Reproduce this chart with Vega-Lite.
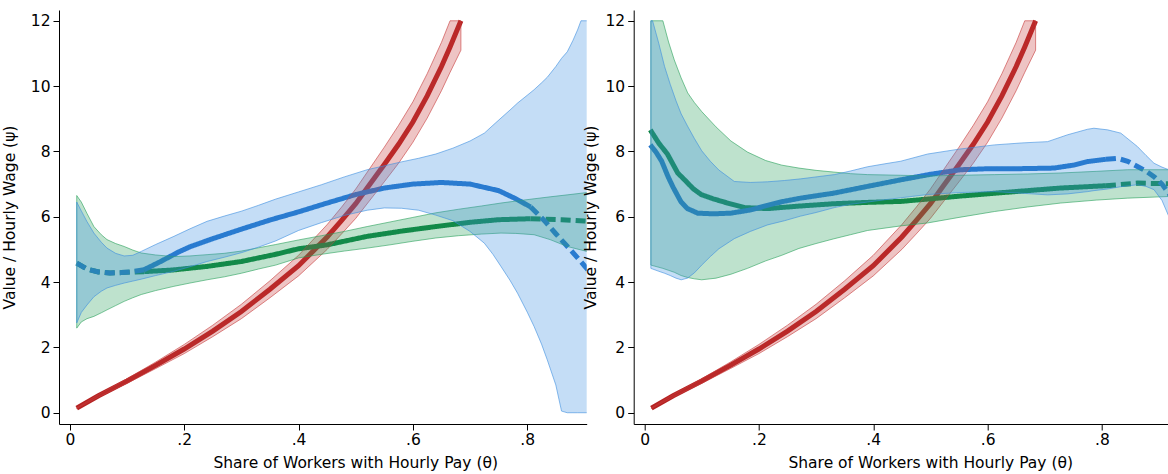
{
  "$schema": "https://vega.github.io/schema/vega-lite/v6.json",
  "padding": {"left": 2, "top": 10, "right": 0, "bottom": 0},
  "bounds": "flush",
  "spacing": 46.7,
  "config": {
    "view": {"stroke": null},
    "font": "DejaVu Sans",
    "axis": {
      "domainColor": "#000000", "tickColor": "#000000", "labelColor": "#000000", "titleColor": "#000000",
      "labelFont": "DejaVu Sans", "titleFont": "DejaVu Sans", "labelFontSize": 15.5, "titleFontSize": 15.5,
      "titleFontWeight": "normal", "grid": false, "tickSize": 6, "domainWidth": 1, "tickWidth": 1, "labelFlush": false
    }
  },
  "datasets": {
    "red": [
      {"x": 0.012, "y": 0.14, "lo": 0.13, "hi": 0.15},
      {"x": 0.05, "y": 0.52, "lo": 0.48, "hi": 0.56},
      {"x": 0.10, "y": 0.97, "lo": 0.90, "hi": 1.04},
      {"x": 0.15, "y": 1.45, "lo": 1.35, "hi": 1.55},
      {"x": 0.20, "y": 1.95, "lo": 1.81, "hi": 2.09},
      {"x": 0.25, "y": 2.50, "lo": 2.33, "hi": 2.68},
      {"x": 0.30, "y": 3.10, "lo": 2.88, "hi": 3.32},
      {"x": 0.35, "y": 3.78, "lo": 3.52, "hi": 4.04},
      {"x": 0.40, "y": 4.50, "lo": 4.19, "hi": 4.82},
      {"x": 0.45, "y": 5.38, "lo": 5.00, "hi": 5.76},
      {"x": 0.475, "y": 5.88, "lo": 5.47, "hi": 6.29},
      {"x": 0.50, "y": 6.40, "lo": 5.95, "hi": 6.85},
      {"x": 0.525, "y": 7.00, "lo": 6.51, "hi": 7.49},
      {"x": 0.55, "y": 7.60, "lo": 7.07, "hi": 8.13},
      {"x": 0.575, "y": 8.22, "lo": 7.64, "hi": 8.80},
      {"x": 0.60, "y": 8.90, "lo": 8.28, "hi": 9.52},
      {"x": 0.625, "y": 9.70, "lo": 9.02, "hi": 10.38},
      {"x": 0.65, "y": 10.60, "lo": 9.86, "hi": 11.34},
      {"x": 0.665, "y": 11.20, "lo": 10.42, "hi": 12.0},
      {"x": 0.684, "y": 12.0, "lo": 11.10, "hi": 12.0}
    ],
    "lines": [
      {"p": "A", "s": "blue", "g": "Ab1", "d": "dash", "x": 0.012, "y": 4.58},
      {"p": "A", "s": "blue", "g": "Ab1", "d": "dash", "x": 0.03, "y": 4.40},
      {"p": "A", "s": "blue", "g": "Ab1", "d": "dash", "x": 0.05, "y": 4.31},
      {"p": "A", "s": "blue", "g": "Ab1", "d": "dash", "x": 0.07, "y": 4.28},
      {"p": "A", "s": "blue", "g": "Ab1", "d": "dash", "x": 0.09, "y": 4.29},
      {"p": "A", "s": "blue", "g": "Ab1", "d": "dash", "x": 0.11, "y": 4.32},
      {"p": "A", "s": "blue", "g": "Ab1", "d": "dash", "x": 0.13, "y": 4.38},
      {"p": "A", "s": "blue", "g": "Ab2", "d": "solid", "x": 0.13, "y": 4.38},
      {"p": "A", "s": "blue", "g": "Ab2", "d": "solid", "x": 0.16, "y": 4.64},
      {"p": "A", "s": "blue", "g": "Ab2", "d": "solid", "x": 0.19, "y": 4.92},
      {"p": "A", "s": "blue", "g": "Ab2", "d": "solid", "x": 0.21, "y": 5.08},
      {"p": "A", "s": "blue", "g": "Ab2", "d": "solid", "x": 0.25, "y": 5.33},
      {"p": "A", "s": "blue", "g": "Ab2", "d": "solid", "x": 0.30, "y": 5.62},
      {"p": "A", "s": "blue", "g": "Ab2", "d": "solid", "x": 0.35, "y": 5.90},
      {"p": "A", "s": "blue", "g": "Ab2", "d": "solid", "x": 0.40, "y": 6.15},
      {"p": "A", "s": "blue", "g": "Ab2", "d": "solid", "x": 0.45, "y": 6.42},
      {"p": "A", "s": "blue", "g": "Ab2", "d": "solid", "x": 0.50, "y": 6.68},
      {"p": "A", "s": "blue", "g": "Ab2", "d": "solid", "x": 0.55, "y": 6.88},
      {"p": "A", "s": "blue", "g": "Ab2", "d": "solid", "x": 0.60, "y": 7.00},
      {"p": "A", "s": "blue", "g": "Ab2", "d": "solid", "x": 0.65, "y": 7.05},
      {"p": "A", "s": "blue", "g": "Ab2", "d": "solid", "x": 0.70, "y": 7.00},
      {"p": "A", "s": "blue", "g": "Ab2", "d": "solid", "x": 0.75, "y": 6.80},
      {"p": "A", "s": "blue", "g": "Ab2", "d": "solid", "x": 0.78, "y": 6.55},
      {"p": "A", "s": "blue", "g": "Ab2", "d": "solid", "x": 0.806, "y": 6.30},
      {"p": "A", "s": "blue", "g": "Ab3", "d": "dash", "x": 0.806, "y": 6.30},
      {"p": "A", "s": "blue", "g": "Ab3", "d": "dash", "x": 0.83, "y": 5.88},
      {"p": "A", "s": "blue", "g": "Ab3", "d": "dash", "x": 0.85, "y": 5.48},
      {"p": "A", "s": "blue", "g": "Ab3", "d": "dash", "x": 0.875, "y": 5.00},
      {"p": "A", "s": "blue", "g": "Ab3", "d": "dash", "x": 0.90, "y": 4.50},
      {"p": "A", "s": "blue", "g": "Ab3", "d": "dash", "x": 0.92, "y": 4.10},
      {"p": "A", "s": "blue", "g": "Ab3", "d": "dash", "x": 0.94, "y": 3.70},
      {"p": "A", "s": "green", "g": "Ag1", "d": "dash", "x": 0.012, "y": 4.58},
      {"p": "A", "s": "green", "g": "Ag1", "d": "dash", "x": 0.03, "y": 4.40},
      {"p": "A", "s": "green", "g": "Ag1", "d": "dash", "x": 0.05, "y": 4.31},
      {"p": "A", "s": "green", "g": "Ag1", "d": "dash", "x": 0.07, "y": 4.28},
      {"p": "A", "s": "green", "g": "Ag1", "d": "dash", "x": 0.09, "y": 4.29},
      {"p": "A", "s": "green", "g": "Ag1", "d": "dash", "x": 0.11, "y": 4.31},
      {"p": "A", "s": "green", "g": "Ag1", "d": "dash", "x": 0.13, "y": 4.32},
      {"p": "A", "s": "green", "g": "Ag2", "d": "solid", "x": 0.13, "y": 4.32},
      {"p": "A", "s": "green", "g": "Ag2", "d": "solid", "x": 0.18, "y": 4.37},
      {"p": "A", "s": "green", "g": "Ag2", "d": "solid", "x": 0.24, "y": 4.48},
      {"p": "A", "s": "green", "g": "Ag2", "d": "solid", "x": 0.30, "y": 4.63},
      {"p": "A", "s": "green", "g": "Ag2", "d": "solid", "x": 0.36, "y": 4.85},
      {"p": "A", "s": "green", "g": "Ag2", "d": "solid", "x": 0.40, "y": 5.02},
      {"p": "A", "s": "green", "g": "Ag2", "d": "solid", "x": 0.45, "y": 5.14},
      {"p": "A", "s": "green", "g": "Ag2", "d": "solid", "x": 0.52, "y": 5.40},
      {"p": "A", "s": "green", "g": "Ag2", "d": "solid", "x": 0.58, "y": 5.56},
      {"p": "A", "s": "green", "g": "Ag2", "d": "solid", "x": 0.64, "y": 5.70},
      {"p": "A", "s": "green", "g": "Ag2", "d": "solid", "x": 0.70, "y": 5.83},
      {"p": "A", "s": "green", "g": "Ag2", "d": "solid", "x": 0.75, "y": 5.91},
      {"p": "A", "s": "green", "g": "Ag2", "d": "solid", "x": 0.806, "y": 5.94},
      {"p": "A", "s": "green", "g": "Ag3", "d": "dash", "x": 0.806, "y": 5.94},
      {"p": "A", "s": "green", "g": "Ag3", "d": "dash", "x": 0.86, "y": 5.91},
      {"p": "A", "s": "green", "g": "Ag3", "d": "dash", "x": 0.90, "y": 5.87},
      {"p": "A", "s": "green", "g": "Ag3", "d": "dash", "x": 0.94, "y": 5.83},
      {"p": "B", "s": "blue", "g": "Bb1", "d": "solid", "x": 0.01, "y": 8.20},
      {"p": "B", "s": "blue", "g": "Bb1", "d": "solid", "x": 0.02, "y": 7.98},
      {"p": "B", "s": "blue", "g": "Bb1", "d": "solid", "x": 0.03, "y": 7.70},
      {"p": "B", "s": "blue", "g": "Bb1", "d": "solid", "x": 0.041, "y": 7.23},
      {"p": "B", "s": "blue", "g": "Bb1", "d": "solid", "x": 0.05, "y": 6.90},
      {"p": "B", "s": "blue", "g": "Bb1", "d": "solid", "x": 0.064, "y": 6.45},
      {"p": "B", "s": "blue", "g": "Bb1", "d": "solid", "x": 0.075, "y": 6.25},
      {"p": "B", "s": "blue", "g": "Bb1", "d": "solid", "x": 0.093, "y": 6.11},
      {"p": "B", "s": "blue", "g": "Bb1", "d": "solid", "x": 0.12, "y": 6.09},
      {"p": "B", "s": "blue", "g": "Bb1", "d": "solid", "x": 0.151, "y": 6.11},
      {"p": "B", "s": "blue", "g": "Bb1", "d": "solid", "x": 0.186, "y": 6.21},
      {"p": "B", "s": "blue", "g": "Bb1", "d": "solid", "x": 0.215, "y": 6.35},
      {"p": "B", "s": "blue", "g": "Bb1", "d": "solid", "x": 0.24, "y": 6.46},
      {"p": "B", "s": "blue", "g": "Bb1", "d": "solid", "x": 0.273, "y": 6.57},
      {"p": "B", "s": "blue", "g": "Bb1", "d": "solid", "x": 0.33, "y": 6.72},
      {"p": "B", "s": "blue", "g": "Bb1", "d": "solid", "x": 0.39, "y": 6.93},
      {"p": "B", "s": "blue", "g": "Bb1", "d": "solid", "x": 0.448, "y": 7.13},
      {"p": "B", "s": "blue", "g": "Bb1", "d": "solid", "x": 0.50, "y": 7.30},
      {"p": "B", "s": "blue", "g": "Bb1", "d": "solid", "x": 0.553, "y": 7.44},
      {"p": "B", "s": "blue", "g": "Bb1", "d": "solid", "x": 0.60, "y": 7.47},
      {"p": "B", "s": "blue", "g": "Bb1", "d": "solid", "x": 0.65, "y": 7.47},
      {"p": "B", "s": "blue", "g": "Bb1", "d": "solid", "x": 0.716, "y": 7.49},
      {"p": "B", "s": "blue", "g": "Bb1", "d": "solid", "x": 0.75, "y": 7.58},
      {"p": "B", "s": "blue", "g": "Bb1", "d": "solid", "x": 0.775, "y": 7.69},
      {"p": "B", "s": "blue", "g": "Bb1", "d": "solid", "x": 0.807, "y": 7.76},
      {"p": "B", "s": "blue", "g": "Bb2", "d": "dash", "x": 0.807, "y": 7.76},
      {"p": "B", "s": "blue", "g": "Bb2", "d": "dash", "x": 0.827, "y": 7.79},
      {"p": "B", "s": "blue", "g": "Bb2", "d": "dash", "x": 0.845, "y": 7.70},
      {"p": "B", "s": "blue", "g": "Bb2", "d": "dash", "x": 0.862, "y": 7.54},
      {"p": "B", "s": "blue", "g": "Bb2", "d": "dash", "x": 0.877, "y": 7.40},
      {"p": "B", "s": "blue", "g": "Bb2", "d": "dash", "x": 0.891, "y": 7.23},
      {"p": "B", "s": "blue", "g": "Bb2", "d": "dash", "x": 0.905, "y": 7.00},
      {"p": "B", "s": "blue", "g": "Bb2", "d": "dash", "x": 0.917, "y": 6.72},
      {"p": "B", "s": "blue", "g": "Bb2", "d": "dash", "x": 0.935, "y": 6.25},
      {"p": "B", "s": "green", "g": "Bg1", "d": "solid", "x": 0.01, "y": 8.66},
      {"p": "B", "s": "green", "g": "Bg1", "d": "solid", "x": 0.025, "y": 8.25},
      {"p": "B", "s": "green", "g": "Bg1", "d": "solid", "x": 0.04, "y": 7.92},
      {"p": "B", "s": "green", "g": "Bg1", "d": "solid", "x": 0.058, "y": 7.34},
      {"p": "B", "s": "green", "g": "Bg1", "d": "solid", "x": 0.07, "y": 7.13},
      {"p": "B", "s": "green", "g": "Bg1", "d": "solid", "x": 0.085, "y": 6.86},
      {"p": "B", "s": "green", "g": "Bg1", "d": "solid", "x": 0.099, "y": 6.68},
      {"p": "B", "s": "green", "g": "Bg1", "d": "solid", "x": 0.12, "y": 6.55},
      {"p": "B", "s": "green", "g": "Bg1", "d": "solid", "x": 0.145, "y": 6.42},
      {"p": "B", "s": "green", "g": "Bg1", "d": "solid", "x": 0.175, "y": 6.28},
      {"p": "B", "s": "green", "g": "Bg1", "d": "solid", "x": 0.215, "y": 6.25},
      {"p": "B", "s": "green", "g": "Bg1", "d": "solid", "x": 0.273, "y": 6.33},
      {"p": "B", "s": "green", "g": "Bg1", "d": "solid", "x": 0.332, "y": 6.40},
      {"p": "B", "s": "green", "g": "Bg1", "d": "solid", "x": 0.39, "y": 6.44},
      {"p": "B", "s": "green", "g": "Bg1", "d": "solid", "x": 0.448, "y": 6.47},
      {"p": "B", "s": "green", "g": "Bg1", "d": "solid", "x": 0.495, "y": 6.54},
      {"p": "B", "s": "green", "g": "Bg1", "d": "solid", "x": 0.55, "y": 6.63},
      {"p": "B", "s": "green", "g": "Bg1", "d": "solid", "x": 0.612, "y": 6.72},
      {"p": "B", "s": "green", "g": "Bg1", "d": "solid", "x": 0.67, "y": 6.80},
      {"p": "B", "s": "green", "g": "Bg1", "d": "solid", "x": 0.728, "y": 6.88},
      {"p": "B", "s": "green", "g": "Bg1", "d": "solid", "x": 0.807, "y": 6.95},
      {"p": "B", "s": "green", "g": "Bg2", "d": "dash", "x": 0.807, "y": 6.95},
      {"p": "B", "s": "green", "g": "Bg2", "d": "dash", "x": 0.862, "y": 7.03},
      {"p": "B", "s": "green", "g": "Bg2", "d": "dash", "x": 0.917, "y": 7.01},
      {"p": "B", "s": "green", "g": "Bg2", "d": "dash", "x": 0.94, "y": 7.00}
    ],
    "bands": [
      {"p": "A", "s": "blue", "x": 0.012, "lo": 2.75, "hi": 6.45},
      {"p": "A", "s": "blue", "x": 0.02, "lo": 3.07, "hi": 6.18},
      {"p": "A", "s": "blue", "x": 0.03, "lo": 3.30, "hi": 5.85},
      {"p": "A", "s": "blue", "x": 0.042, "lo": 3.55, "hi": 5.50},
      {"p": "A", "s": "blue", "x": 0.055, "lo": 3.72, "hi": 5.22},
      {"p": "A", "s": "blue", "x": 0.065, "lo": 3.82, "hi": 5.04},
      {"p": "A", "s": "blue", "x": 0.08, "lo": 3.90, "hi": 4.88},
      {"p": "A", "s": "blue", "x": 0.095, "lo": 3.97, "hi": 4.80},
      {"p": "A", "s": "blue", "x": 0.11, "lo": 4.03, "hi": 4.82},
      {"p": "A", "s": "blue", "x": 0.125, "lo": 4.09, "hi": 4.94},
      {"p": "A", "s": "blue", "x": 0.15, "lo": 4.20, "hi": 5.15},
      {"p": "A", "s": "blue", "x": 0.182, "lo": 4.33, "hi": 5.40},
      {"p": "A", "s": "blue", "x": 0.21, "lo": 4.47, "hi": 5.63},
      {"p": "A", "s": "blue", "x": 0.24, "lo": 4.63, "hi": 5.86},
      {"p": "A", "s": "blue", "x": 0.27, "lo": 4.76, "hi": 6.02},
      {"p": "A", "s": "blue", "x": 0.30, "lo": 4.90, "hi": 6.17},
      {"p": "A", "s": "blue", "x": 0.33, "lo": 5.07, "hi": 6.35},
      {"p": "A", "s": "blue", "x": 0.36, "lo": 5.26, "hi": 6.54},
      {"p": "A", "s": "blue", "x": 0.40, "lo": 5.58, "hi": 6.76},
      {"p": "A", "s": "blue", "x": 0.44, "lo": 5.82, "hi": 6.98},
      {"p": "A", "s": "blue", "x": 0.48, "lo": 6.04, "hi": 7.22},
      {"p": "A", "s": "blue", "x": 0.52, "lo": 6.20, "hi": 7.44},
      {"p": "A", "s": "blue", "x": 0.55, "lo": 6.27, "hi": 7.56},
      {"p": "A", "s": "blue", "x": 0.58, "lo": 6.26, "hi": 7.68},
      {"p": "A", "s": "blue", "x": 0.61, "lo": 6.20, "hi": 7.79},
      {"p": "A", "s": "blue", "x": 0.64, "lo": 6.05, "hi": 7.92},
      {"p": "A", "s": "blue", "x": 0.67, "lo": 5.88, "hi": 8.10},
      {"p": "A", "s": "blue", "x": 0.70, "lo": 5.55, "hi": 8.32},
      {"p": "A", "s": "blue", "x": 0.725, "lo": 5.19, "hi": 8.56},
      {"p": "A", "s": "blue", "x": 0.74, "lo": 4.85, "hi": 8.80},
      {"p": "A", "s": "blue", "x": 0.754, "lo": 4.48, "hi": 9.02},
      {"p": "A", "s": "blue", "x": 0.77, "lo": 4.05, "hi": 9.27},
      {"p": "A", "s": "blue", "x": 0.783, "lo": 3.66, "hi": 9.48},
      {"p": "A", "s": "blue", "x": 0.80, "lo": 3.08, "hi": 9.72},
      {"p": "A", "s": "blue", "x": 0.812, "lo": 2.64, "hi": 9.89},
      {"p": "A", "s": "blue", "x": 0.825, "lo": 2.10, "hi": 10.10},
      {"p": "A", "s": "blue", "x": 0.835, "lo": 1.62, "hi": 10.27},
      {"p": "A", "s": "blue", "x": 0.85, "lo": 0.85, "hi": 10.60},
      {"p": "A", "s": "blue", "x": 0.86, "lo": 0.05, "hi": 10.85},
      {"p": "A", "s": "blue", "x": 0.87, "lo": 0.0, "hi": 11.05},
      {"p": "A", "s": "blue", "x": 0.88, "lo": 0.0, "hi": 11.40},
      {"p": "A", "s": "blue", "x": 0.888, "lo": 0.0, "hi": 11.72},
      {"p": "A", "s": "blue", "x": 0.894, "lo": 0.0, "hi": 12.0},
      {"p": "A", "s": "blue", "x": 0.92, "lo": 0.0, "hi": 12.0},
      {"p": "A", "s": "blue", "x": 0.95, "lo": 0.0, "hi": 12.0},
      {"p": "A", "s": "green", "x": 0.012, "lo": 2.59, "hi": 6.65},
      {"p": "A", "s": "green", "x": 0.02, "lo": 2.78, "hi": 6.45},
      {"p": "A", "s": "green", "x": 0.03, "lo": 2.88, "hi": 6.10},
      {"p": "A", "s": "green", "x": 0.042, "lo": 2.95, "hi": 5.70},
      {"p": "A", "s": "green", "x": 0.055, "lo": 3.06, "hi": 5.45},
      {"p": "A", "s": "green", "x": 0.065, "lo": 3.15, "hi": 5.30},
      {"p": "A", "s": "green", "x": 0.08, "lo": 3.28, "hi": 5.18},
      {"p": "A", "s": "green", "x": 0.095, "lo": 3.41, "hi": 5.09},
      {"p": "A", "s": "green", "x": 0.11, "lo": 3.52, "hi": 4.98},
      {"p": "A", "s": "green", "x": 0.125, "lo": 3.62, "hi": 4.89},
      {"p": "A", "s": "green", "x": 0.15, "lo": 3.74, "hi": 4.83},
      {"p": "A", "s": "green", "x": 0.182, "lo": 3.87, "hi": 4.78},
      {"p": "A", "s": "green", "x": 0.21, "lo": 3.97, "hi": 4.80},
      {"p": "A", "s": "green", "x": 0.24, "lo": 4.07, "hi": 4.84},
      {"p": "A", "s": "green", "x": 0.27, "lo": 4.16, "hi": 4.88},
      {"p": "A", "s": "green", "x": 0.30, "lo": 4.27, "hi": 4.95},
      {"p": "A", "s": "green", "x": 0.33, "lo": 4.40, "hi": 5.05},
      {"p": "A", "s": "green", "x": 0.36, "lo": 4.52, "hi": 5.15},
      {"p": "A", "s": "green", "x": 0.40, "lo": 4.74, "hi": 5.29},
      {"p": "A", "s": "green", "x": 0.44, "lo": 4.85, "hi": 5.42},
      {"p": "A", "s": "green", "x": 0.48, "lo": 4.95, "hi": 5.55},
      {"p": "A", "s": "green", "x": 0.52, "lo": 5.04, "hi": 5.70},
      {"p": "A", "s": "green", "x": 0.56, "lo": 5.14, "hi": 5.84},
      {"p": "A", "s": "green", "x": 0.60, "lo": 5.25, "hi": 5.98},
      {"p": "A", "s": "green", "x": 0.64, "lo": 5.35, "hi": 6.12},
      {"p": "A", "s": "green", "x": 0.68, "lo": 5.42, "hi": 6.23},
      {"p": "A", "s": "green", "x": 0.72, "lo": 5.47, "hi": 6.33},
      {"p": "A", "s": "green", "x": 0.754, "lo": 5.50, "hi": 6.42},
      {"p": "A", "s": "green", "x": 0.78, "lo": 5.49, "hi": 6.48},
      {"p": "A", "s": "green", "x": 0.812, "lo": 5.45, "hi": 6.55},
      {"p": "A", "s": "green", "x": 0.84, "lo": 5.30, "hi": 6.61},
      {"p": "A", "s": "green", "x": 0.87, "lo": 5.09, "hi": 6.67},
      {"p": "A", "s": "green", "x": 0.904, "lo": 4.94, "hi": 6.74},
      {"p": "A", "s": "green", "x": 0.94, "lo": 4.75, "hi": 6.82},
      {"p": "B", "s": "blue", "x": 0.011, "lo": 4.42, "hi": 12.0},
      {"p": "B", "s": "blue", "x": 0.014, "lo": 4.40, "hi": 12.0},
      {"p": "B", "s": "blue", "x": 0.025, "lo": 4.33, "hi": 11.3},
      {"p": "B", "s": "blue", "x": 0.035, "lo": 4.27, "hi": 10.6},
      {"p": "B", "s": "blue", "x": 0.045, "lo": 4.20, "hi": 10.05},
      {"p": "B", "s": "blue", "x": 0.055, "lo": 4.12, "hi": 9.55},
      {"p": "B", "s": "blue", "x": 0.064, "lo": 4.07, "hi": 9.15},
      {"p": "B", "s": "blue", "x": 0.075, "lo": 4.12, "hi": 8.78},
      {"p": "B", "s": "blue", "x": 0.087, "lo": 4.28, "hi": 8.40},
      {"p": "B", "s": "blue", "x": 0.10, "lo": 4.52, "hi": 8.02},
      {"p": "B", "s": "blue", "x": 0.115, "lo": 4.78, "hi": 7.70},
      {"p": "B", "s": "blue", "x": 0.13, "lo": 5.02, "hi": 7.43},
      {"p": "B", "s": "blue", "x": 0.157, "lo": 5.33, "hi": 7.08},
      {"p": "B", "s": "blue", "x": 0.185, "lo": 5.55, "hi": 7.05},
      {"p": "B", "s": "blue", "x": 0.215, "lo": 5.75, "hi": 7.07},
      {"p": "B", "s": "blue", "x": 0.245, "lo": 5.88, "hi": 7.11},
      {"p": "B", "s": "blue", "x": 0.273, "lo": 6.02, "hi": 7.16},
      {"p": "B", "s": "blue", "x": 0.30, "lo": 6.13, "hi": 7.22},
      {"p": "B", "s": "blue", "x": 0.332, "lo": 6.28, "hi": 7.29},
      {"p": "B", "s": "blue", "x": 0.36, "lo": 6.38, "hi": 7.40},
      {"p": "B", "s": "blue", "x": 0.39, "lo": 6.45, "hi": 7.53},
      {"p": "B", "s": "blue", "x": 0.42, "lo": 6.52, "hi": 7.62},
      {"p": "B", "s": "blue", "x": 0.448, "lo": 6.58, "hi": 7.70},
      {"p": "B", "s": "blue", "x": 0.495, "lo": 6.68, "hi": 7.92},
      {"p": "B", "s": "blue", "x": 0.55, "lo": 6.74, "hi": 8.07},
      {"p": "B", "s": "blue", "x": 0.612, "lo": 6.77, "hi": 8.20},
      {"p": "B", "s": "blue", "x": 0.66, "lo": 6.72, "hi": 8.26},
      {"p": "B", "s": "blue", "x": 0.705, "lo": 6.67, "hi": 8.30},
      {"p": "B", "s": "blue", "x": 0.74, "lo": 6.70, "hi": 8.51},
      {"p": "B", "s": "blue", "x": 0.775, "lo": 6.77, "hi": 8.68},
      {"p": "B", "s": "blue", "x": 0.786, "lo": 6.80, "hi": 8.71},
      {"p": "B", "s": "blue", "x": 0.81, "lo": 6.85, "hi": 8.66},
      {"p": "B", "s": "blue", "x": 0.833, "lo": 6.92, "hi": 8.56},
      {"p": "B", "s": "blue", "x": 0.862, "lo": 6.98, "hi": 8.15},
      {"p": "B", "s": "blue", "x": 0.877, "lo": 6.93, "hi": 7.88},
      {"p": "B", "s": "blue", "x": 0.891, "lo": 6.83, "hi": 7.64},
      {"p": "B", "s": "blue", "x": 0.905, "lo": 6.50, "hi": 7.52},
      {"p": "B", "s": "blue", "x": 0.917, "lo": 6.01, "hi": 7.44},
      {"p": "B", "s": "blue", "x": 0.935, "lo": 5.40, "hi": 7.30},
      {"p": "B", "s": "green", "x": 0.011, "lo": 4.52, "hi": 12.0},
      {"p": "B", "s": "green", "x": 0.032, "lo": 4.42, "hi": 12.0},
      {"p": "B", "s": "green", "x": 0.042, "lo": 4.36, "hi": 11.35},
      {"p": "B", "s": "green", "x": 0.052, "lo": 4.30, "hi": 10.8},
      {"p": "B", "s": "green", "x": 0.064, "lo": 4.20, "hi": 10.25},
      {"p": "B", "s": "green", "x": 0.0755, "lo": 4.14, "hi": 9.79},
      {"p": "B", "s": "green", "x": 0.087, "lo": 4.10, "hi": 9.50},
      {"p": "B", "s": "green", "x": 0.10, "lo": 4.07, "hi": 9.22},
      {"p": "B", "s": "green", "x": 0.125, "lo": 4.12, "hi": 8.75},
      {"p": "B", "s": "green", "x": 0.151, "lo": 4.24, "hi": 8.32},
      {"p": "B", "s": "green", "x": 0.18, "lo": 4.42, "hi": 7.98},
      {"p": "B", "s": "green", "x": 0.212, "lo": 4.65, "hi": 7.72},
      {"p": "B", "s": "green", "x": 0.24, "lo": 4.82, "hi": 7.58},
      {"p": "B", "s": "green", "x": 0.27, "lo": 5.03, "hi": 7.49},
      {"p": "B", "s": "green", "x": 0.30, "lo": 5.18, "hi": 7.42},
      {"p": "B", "s": "green", "x": 0.33, "lo": 5.32, "hi": 7.37},
      {"p": "B", "s": "green", "x": 0.36, "lo": 5.45, "hi": 7.32},
      {"p": "B", "s": "green", "x": 0.39, "lo": 5.58, "hi": 7.29},
      {"p": "B", "s": "green", "x": 0.448, "lo": 5.72, "hi": 7.27},
      {"p": "B", "s": "green", "x": 0.495, "lo": 5.81, "hi": 7.25},
      {"p": "B", "s": "green", "x": 0.55, "lo": 5.98, "hi": 7.27},
      {"p": "B", "s": "green", "x": 0.612, "lo": 6.16, "hi": 7.29},
      {"p": "B", "s": "green", "x": 0.67, "lo": 6.30, "hi": 7.31},
      {"p": "B", "s": "green", "x": 0.728, "lo": 6.42, "hi": 7.34},
      {"p": "B", "s": "green", "x": 0.79, "lo": 6.51, "hi": 7.39},
      {"p": "B", "s": "green", "x": 0.845, "lo": 6.57, "hi": 7.44},
      {"p": "B", "s": "green", "x": 0.917, "lo": 6.62, "hi": 7.44},
      {"p": "B", "s": "green", "x": 0.94, "lo": 6.63, "hi": 7.45}
    ]
  },
  "hconcat": [
    {
      "width": 527.7,
      "height": 414,
      "encoding": {
        "x": {"field": "x", "type": "quantitative", "scale": {"domain": [-0.019, 0.904], "nice": false, "zero": false},
          "axis": {"values": [0, 0.2, 0.4, 0.6, 0.8], "labelExpr": "datum.value == 0 ? '0' : replace(format(datum.value, '.1f'), '0.', '.')", "labelPadding": 2.5, "title": "Share of Workers with Hourly Pay (θ)", "titleX": 296.2, "titleY": 43.6, "titleBaseline": "alphabetic", "titleAlign": "center"}}
      },
      "layer": [
        {"data": {"name": "red"}, "mark": {"type": "line", "color": "#b52222", "strokeWidth": 5, "strokeCap": "butt", "clip": true},
          "encoding": {"y": {"field": "y", "type": "quantitative", "title": "Value / Hourly Wage (ψ)", "scale": {"domain": [-0.345, 12.33], "nice": false, "zero": false},
            "axis": {"values": [0, 2, 4, 6, 8, 10, 12], "labelPadding": 3, "titleX": -44.3, "titleY": 207, "titleBaseline": "alphabetic", "titleAngle": 270}}}},
        {"data": {"name": "lines"}, "transform": [{"filter": "datum.p == 'A' && datum.s == 'green'"}],
          "mark": {"type": "line", "color": "#0a8143", "strokeWidth": 5, "strokeCap": "butt", "clip": true},
          "encoding": {"y": {"field": "y", "type": "quantitative", "title": "Value / Hourly Wage (ψ)"}, "detail": {"field": "g"},
            "strokeDash": {"field": "d", "type": "nominal", "scale": {"domain": ["solid", "dash"], "range": [[1, 0], [10, 5]]}, "legend": null}}},
        {"data": {"name": "lines"}, "transform": [{"filter": "datum.p == 'A' && datum.s == 'blue'"}],
          "mark": {"type": "line", "color": "#2273c9", "strokeWidth": 5, "strokeCap": "butt", "clip": true},
          "encoding": {"y": {"field": "y", "type": "quantitative", "title": "Value / Hourly Wage (ψ)"}, "detail": {"field": "g"},
            "strokeDash": {"field": "d", "type": "nominal", "scale": {"domain": ["solid", "dash"], "range": [[1, 0], [10, 5]]}, "legend": null}}},
        {"data": {"name": "red"}, "mark": {"type": "area", "fill": "#c83c3c", "fillOpacity": 0.3, "stroke": "#c83c3c", "strokeOpacity": 0.6, "strokeWidth": 1, "clip": true},
          "encoding": {"y": {"field": "lo", "type": "quantitative", "title": "Value / Hourly Wage (ψ)"}, "y2": {"field": "hi"}}},
        {"data": {"name": "bands"}, "transform": [{"filter": "datum.p == 'A' && datum.s == 'green'"}],
          "mark": {"type": "area", "fill": "#28a05a", "fillOpacity": 0.3, "stroke": "#28a05a", "strokeOpacity": 0.6, "strokeWidth": 1, "clip": true},
          "encoding": {"y": {"field": "lo", "type": "quantitative", "title": "Value / Hourly Wage (ψ)"}, "y2": {"field": "hi"}}},
        {"data": {"name": "bands"}, "transform": [{"filter": "datum.p == 'A' && datum.s == 'blue'"}],
          "mark": {"type": "area", "fill": "#3c8ee0", "fillOpacity": 0.3, "stroke": "#3c8ee0", "strokeOpacity": 0.6, "strokeWidth": 1, "clip": true},
          "encoding": {"y": {"field": "lo", "type": "quantitative", "title": "Value / Hourly Wage (ψ)"}, "y2": {"field": "hi"}}}
      ]
    },
    {
      "width": 535.3,
      "height": 414,
      "encoding": {
        "x": {"field": "x", "type": "quantitative", "scale": {"domain": [-0.019, 0.9173], "nice": false, "zero": false},
          "axis": {"values": [0, 0.2, 0.4, 0.6, 0.8], "labelExpr": "datum.value == 0 ? '0' : replace(format(datum.value, '.1f'), '0.', '.')", "labelPadding": 2.5, "title": "Share of Workers with Hourly Pay (θ)", "titleX": 296.5, "titleY": 43.6, "titleBaseline": "alphabetic", "titleAlign": "center"}}
      },
      "layer": [
        {"data": {"name": "red"}, "mark": {"type": "line", "color": "#b52222", "strokeWidth": 5, "strokeCap": "butt", "clip": true},
          "encoding": {"y": {"field": "y", "type": "quantitative", "title": "Value / Hourly Wage (ψ)", "scale": {"domain": [-0.345, 12.33], "nice": false, "zero": false},
            "axis": {"values": [0, 2, 4, 6, 8, 10, 12], "labelPadding": 3, "titleX": -38.7, "titleY": 207, "titleBaseline": "alphabetic", "titleAngle": 270}}}},
        {"data": {"name": "lines"}, "transform": [{"filter": "datum.p == 'B' && datum.s == 'green'"}],
          "mark": {"type": "line", "color": "#0a8143", "strokeWidth": 5, "strokeCap": "butt", "clip": true},
          "encoding": {"y": {"field": "y", "type": "quantitative", "title": "Value / Hourly Wage (ψ)"}, "detail": {"field": "g"},
            "strokeDash": {"field": "d", "type": "nominal", "scale": {"domain": ["solid", "dash"], "range": [[1, 0], [10, 5]]}, "legend": null}}},
        {"data": {"name": "lines"}, "transform": [{"filter": "datum.p == 'B' && datum.s == 'blue'"}],
          "mark": {"type": "line", "color": "#2273c9", "strokeWidth": 5, "strokeCap": "butt", "clip": true},
          "encoding": {"y": {"field": "y", "type": "quantitative", "title": "Value / Hourly Wage (ψ)"}, "detail": {"field": "g"},
            "strokeDash": {"field": "d", "type": "nominal", "scale": {"domain": ["solid", "dash"], "range": [[1, 0], [10, 5]]}, "legend": null}}},
        {"data": {"name": "red"}, "mark": {"type": "area", "fill": "#c83c3c", "fillOpacity": 0.3, "stroke": "#c83c3c", "strokeOpacity": 0.6, "strokeWidth": 1, "clip": true},
          "encoding": {"y": {"field": "lo", "type": "quantitative", "title": "Value / Hourly Wage (ψ)"}, "y2": {"field": "hi"}}},
        {"data": {"name": "bands"}, "transform": [{"filter": "datum.p == 'B' && datum.s == 'green'"}],
          "mark": {"type": "area", "fill": "#28a05a", "fillOpacity": 0.3, "stroke": "#28a05a", "strokeOpacity": 0.6, "strokeWidth": 1, "clip": true},
          "encoding": {"y": {"field": "lo", "type": "quantitative", "title": "Value / Hourly Wage (ψ)"}, "y2": {"field": "hi"}}},
        {"data": {"name": "bands"}, "transform": [{"filter": "datum.p == 'B' && datum.s == 'blue'"}],
          "mark": {"type": "area", "fill": "#3c8ee0", "fillOpacity": 0.3, "stroke": "#3c8ee0", "strokeOpacity": 0.6, "strokeWidth": 1, "clip": true},
          "encoding": {"y": {"field": "lo", "type": "quantitative", "title": "Value / Hourly Wage (ψ)"}, "y2": {"field": "hi"}}}
      ]
    }
  ]
}
